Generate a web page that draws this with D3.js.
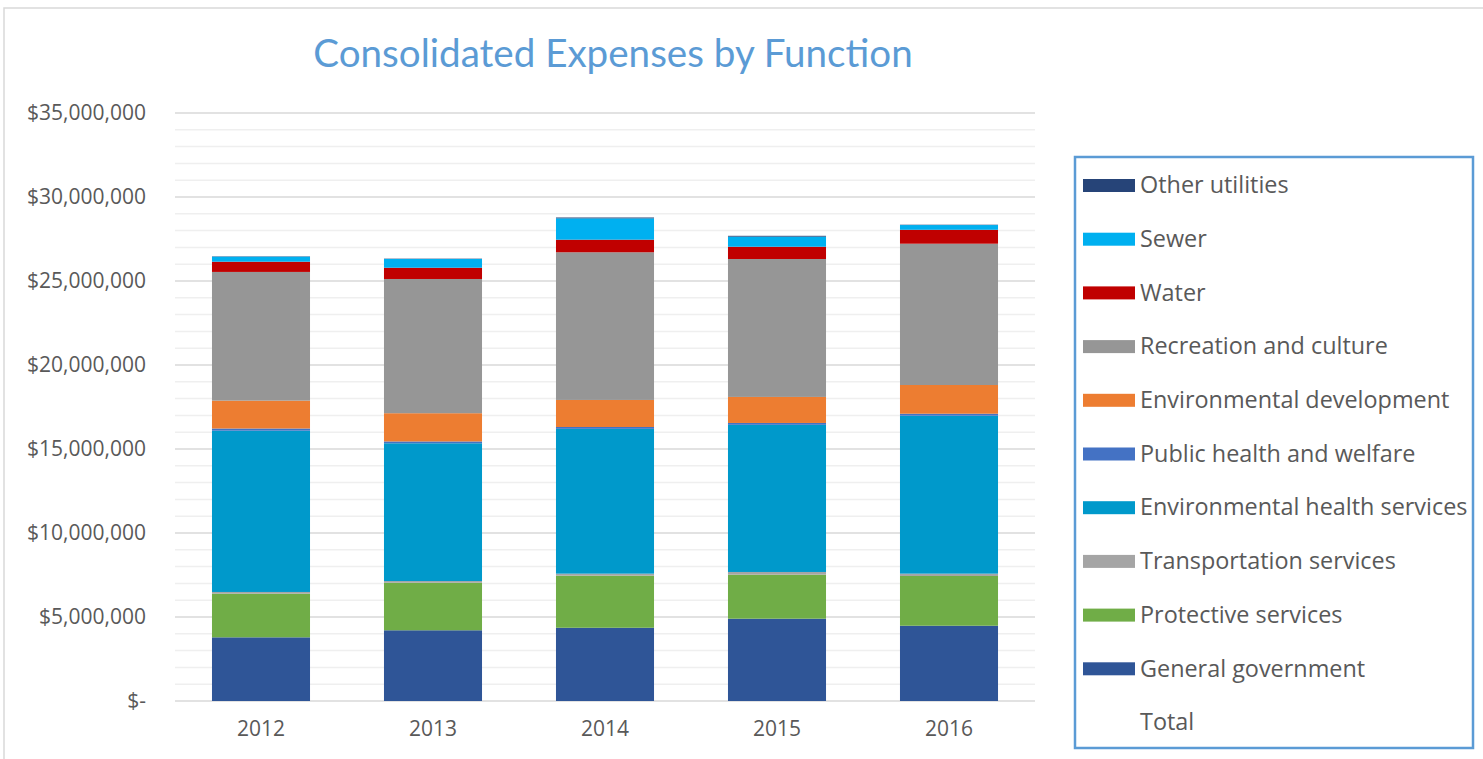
<!DOCTYPE html>
<html>
<head>
    <meta charset='utf-8'>
    <title>Consolidated Expenses by Function</title>
    <style>
        body { margin: 0; background: #fff; }
        svg { display: block; font-family: "Open Sans", sans-serif; }
    </style>
</head>
<body>
<svg width="1483" height="759"></svg>
<script src="https://d3js.org/d3.v7.min.js"></script>
<script>
    const years = ["2012", "2013", "2014", "2015", "2016"]

    // series, bottom to top of each stack
    const seriesNames = [
        "General government", "Protective services", "Transportation services",
        "Environmental health services", "Public health and welfare",
        "Environmental development", "Recreation and culture",
        "Water", "Sewer", "Other utilities"
    ]
    const seriesColors = [
        "#2f5597", "#70ad47", "#a5a5a5", "#0099cb", "#4472c4",
        "#ed7d31", "#969696", "#c00000", "#00b0f0", "#264478"
    ]

    const generalGovernment = [3790000, 4210000, 4360000, 4900000, 4480000]
    const protective        = [2600000, 2830000, 3100000, 2620000, 2960000]
    const transportation    = [100000, 100000, 120000, 160000, 140000]
    const envHealth         = [9600000, 8200000, 8620000, 8760000, 9400000]
    const publicHealth      = [130000, 110000, 110000, 110000, 120000]
    const envDevelopment    = [1660000, 1680000, 1610000, 1550000, 1710000]
    const recreation        = [7660000, 7990000, 8790000, 8210000, 8410000]
    const water             = [610000, 670000, 750000, 730000, 830000]
    const sewer             = [300000, 520000, 1270000, 600000, 280000]
    const otherUtilities    = [20000, 20000, 50000, 50000, 20000]

    const yTicks = [0, 5e6, 10e6, 15e6, 20e6, 25e6, 30e6, 35e6]

    const seriesValues = [generalGovernment, protective, transportation, envHealth, publicHealth,
        envDevelopment, recreation, water, sewer, otherUtilities]

    const rows = years.map((year, i) => {
        const row = {year: year}
        seriesNames.forEach((name, s) => row[name] = seriesValues[s][i])
        return row
    })

    const svg = d3.select("svg")
    const textColor = "#595959"

    // chart area frame
    svg.append("rect")
        .attr("x", 4).attr("y", 8)
        .attr("width", 1500).attr("height", 800)
        .attr("fill", "none")
        .attr("stroke", "#d9d9d9")
        .attr("stroke-width", 1.5)

    svg.append("text")
        .attr("x", 613).attr("y", 67)
        .attr("text-anchor", "middle")
        .attr("fill", "#5b9bd5")
        .attr("font-family", "Lato, sans-serif")
        .attr("font-size", 38.6)
        .text("Consolidated Expenses by Function")

    const x = d3.scaleBand()
        .domain(years)
        .range([175, 1035])
        .paddingInner(0.43)
        .paddingOuter(0.215)

    const y = d3.scaleLinear()
        .domain([0, 35e6])
        .range([701, 113])

    // minor gridlines every million, major every five
    svg.append("g")
        .selectAll("line")
        .data(d3.range(0, 35e6 + 1, 1e6))
        .join("line")
        .attr("x1", 175).attr("x2", 1035)
        .attr("y1", d => y(d)).attr("y2", d => y(d))
        .attr("stroke", d => d % 5e6 === 0 ? "#d9d9d9" : "#efefef")
        .attr("stroke-width", 1.5)

    const stack = d3.stack().keys(seriesNames)(rows)

    svg.append("g")
        .selectAll("g")
        .data(stack)
        .join("g")
        .attr("fill", (d, i) => seriesColors[i])
        .selectAll("rect")
        .data(d => d)
        .join("rect")
        .attr("x", d => x(d.data.year))
        .attr("y", d => y(d[1]))
        .attr("width", x.bandwidth())
        .attr("height", d => y(d[0]) - y(d[1]))

    const yAxis = svg.append("g")
        .attr("transform", "translate(175,0)")
        .call(d3.axisLeft(y)
            .tickValues(yTicks)
            .tickSize(0)
            .tickPadding(29)
            .tickFormat(d => d === 0 ? "$-" : "$" + d3.format(",")(d)))
    yAxis.select(".domain").remove()
    yAxis.selectAll("text")
        .attr("fill", textColor)
        .attr("font-size", 21)
        .attr("font-family", "'Open Sans', sans-serif")

    const xAxis = svg.append("g")
        .attr("transform", "translate(0,701)")
        .call(d3.axisBottom(x).tickSize(0).tickPadding(20))
    xAxis.select(".domain").remove()
    xAxis.selectAll("text")
        .attr("fill", textColor)
        .attr("font-size", 21)
        .attr("font-family", "'Open Sans', sans-serif")

    // legend, top to bottom, plus the invisible Total series
    const legendItems = seriesNames.map((name, i) => ({name: name, color: seriesColors[i]})).reverse()
    legendItems.push({name: "Total", color: null})

    const legend = svg.append("g")
    legend.append("rect")
        .attr("x", 1075).attr("y", 157)
        .attr("width", 398).attr("height", 591)
        .attr("fill", "#fff")
        .attr("stroke", "#5b9bd5")
        .attr("stroke-width", 2.5)

    const ly = d3.scalePoint()
        .domain(legendItems.map(d => d.name))
        .range([185, 722])

    const item = legend.selectAll("g.item")
        .data(legendItems)
        .join("g")
        .attr("class", "item")
        .attr("transform", d => `translate(0,${ly(d.name)})`)

    item.filter(d => d.color)
        .append("rect")
        .attr("x", 1083).attr("y", -6)
        .attr("width", 52).attr("height", 13)
        .attr("fill", d => d.color)

    item.append("text")
        .attr("x", 1140)
        .attr("dy", "0.35em")
        .attr("fill", textColor)
        .attr("font-size", 23.4)
        .text(d => d.name)
</script>
</body>
</html>
